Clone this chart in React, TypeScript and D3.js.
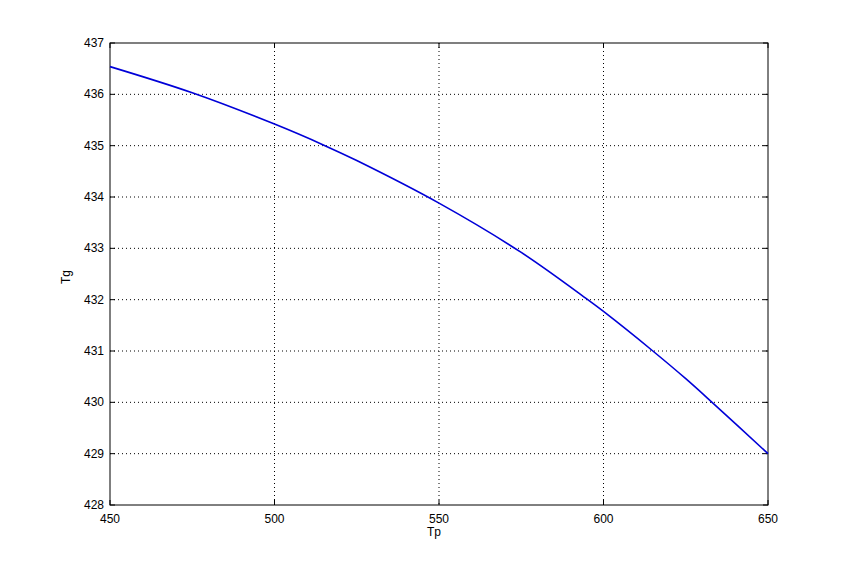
import React from "react";
import * as d3 from "d3";

const tp = [450, 475, 500, 515, 525, 550, 575, 595, 600, 615, 625, 633, 650];
const tg = [436.54, 436.03, 435.42, 435.01, 434.71, 433.88, 432.92, 432.01, 431.77, 431.0, 430.46, 430.0, 429.0];
const xTicks = [450, 500, 550, 600, 650];
const yTicks = [428, 429, 430, 431, 432, 433, 434, 435, 436, 437];

const W = 848, H = 569;
const L = 110, R = 768, T = 43, B = 505;

export default function App() {
  const x = d3.scaleLinear().domain([450, 650]).range([L, R]);
  const y = d3.scaleLinear().domain([428, 437]).range([B, T]);
  const pts: [number, number][] = tp.map((v, i) => [v, tg[i]]);
  const line = d3.line<[number, number]>().x(d => x(d[0])).y(d => y(d[1])).curve(d3.curveCatmullRom.alpha(0.5));
  const font = "'Liberation Sans', Arial, sans-serif";
  return (
    <svg width={W} height={H} style={{ position: "absolute", left: 0, top: 0, background: "#fff" }} fontFamily={font}>
      <rect x={0} y={0} width={W} height={H} fill="#fff" />
      {xTicks.slice(1, -1).map(t => (
        <line key={"gx" + t} x1={x(t)} x2={x(t)} y1={T} y2={B} stroke="#000" strokeWidth={1} strokeDasharray="1,3" />
      ))}
      {yTicks.slice(1, -1).map(t => (
        <line key={"gy" + t} x1={L} x2={R} y1={y(t)} y2={y(t)} stroke="#000" strokeWidth={1} strokeDasharray="1,3" />
      ))}
      {xTicks.map(t => (
        <g key={"tx" + t}>
          <line x1={x(t)} x2={x(t)} y1={B} y2={B - 5} stroke="#000" />
          <line x1={x(t)} x2={x(t)} y1={T} y2={T + 5} stroke="#000" />
          <text x={x(t)} y={523} fontSize={12} textAnchor="middle">{t}</text>
        </g>
      ))}
      {yTicks.map(t => (
        <g key={"ty" + t}>
          <line x1={L} x2={L + 5} y1={y(t)} y2={y(t)} stroke="#000" />
          <line x1={R} x2={R - 5} y1={y(t)} y2={y(t)} stroke="#000" />
          <text x={104} y={y(t) + 4} fontSize={12} textAnchor="end">{t}</text>
        </g>
      ))}
      <rect x={L} y={T} width={R - L} height={B - T} fill="none" stroke="#000" strokeWidth={1} />
      <path d={line(pts) || ""} fill="none" stroke="#0000d8" strokeWidth={1.6} />
      <text x={434} y={536} fontSize={12} textAnchor="middle">Tp</text>
      <text transform={`translate(70,277) rotate(-90)`} fontSize={12} textAnchor="middle">Tg</text>
    </svg>
  );
}
